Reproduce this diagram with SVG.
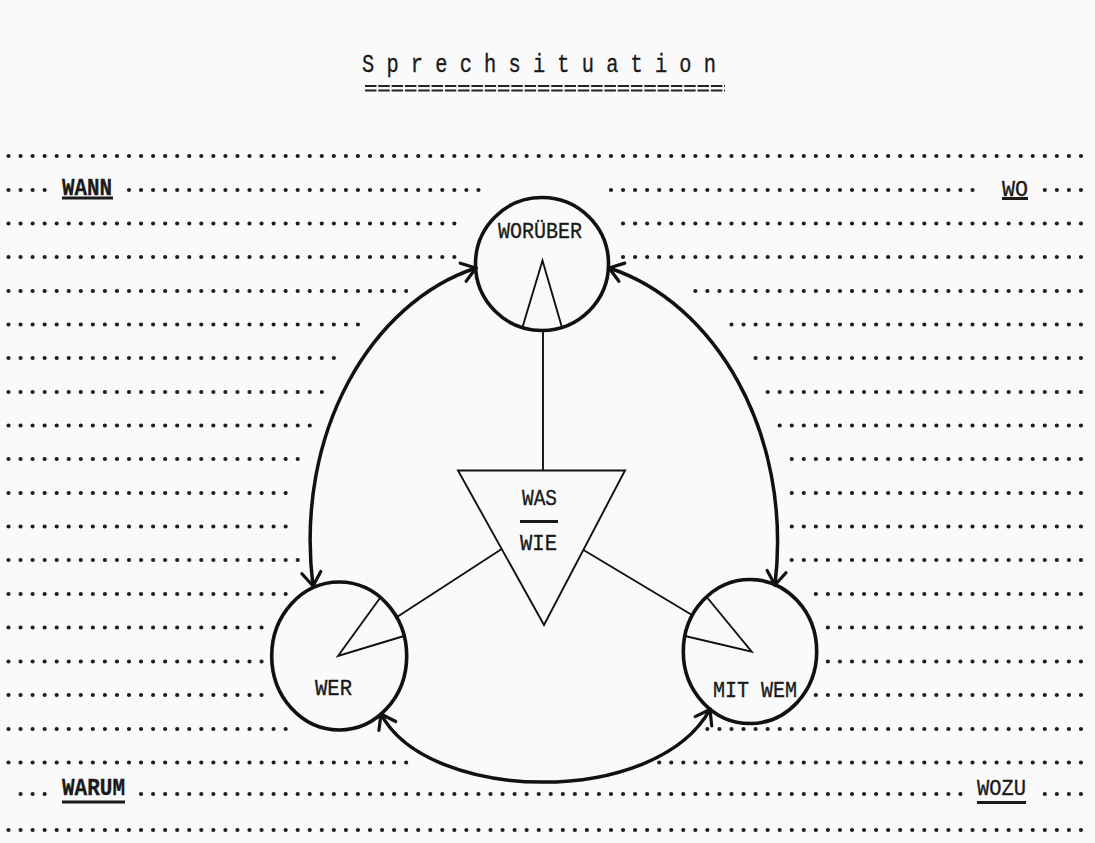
<svg xmlns="http://www.w3.org/2000/svg" width="1095" height="843" viewBox="0 0 1095 843">
<defs>
<style>
.dots{stroke:#1e1e1e;stroke-width:4.2;stroke-linecap:round;stroke-dasharray:0 12.05;fill:none}
.t{font-family:"Courier New","Liberation Mono",monospace;fill:#1a1a1a;stroke:#1a1a1a;stroke-width:0.35}
.lab{font-size:22px}
.big{font-size:23px;font-weight:bold}
.ul{stroke:#1a1a1a;stroke-width:3}
.ring{fill:none;stroke:#111;stroke-width:3.6}
.thin{fill:none;stroke:#111;stroke-width:1.9;stroke-linejoin:miter}
.arc{fill:none;stroke:#111;stroke-width:3.5;stroke-linecap:round}
</style>
<marker id="ah" viewBox="-16 -12 20 24" markerWidth="20" markerHeight="24" refX="0" refY="0" markerUnits="userSpaceOnUse" orient="auto-start-reverse">
<path d="M -13.5,-9.5 L 0,0 L -13.5,9.5" fill="none" stroke="#111" stroke-width="3.2" stroke-linecap="round" stroke-linejoin="round"/>
</marker>
</defs>
<rect width="1095" height="843" fill="#fafafa"/>

<g id="title">
<text class="t" x="362" y="72" font-size="26" textLength="354" lengthAdjust="spacingAndGlyphs">S p r e c h s i t u a t i o n</text>
<line x1="365" y1="86" x2="725" y2="86" stroke="#222" stroke-width="2" stroke-dasharray="11.5 1.8"/>
<line x1="365" y1="90.5" x2="725" y2="90.5" stroke="#222" stroke-width="2" stroke-dasharray="11.5 1.8"/>
</g>

<g id="dot-rows">
<line class="dots" x1="8.5" y1="156" x2="1081.05" y2="156"/>
<line class="dots" x1="8.5" y1="190" x2="44.7" y2="190"/>
<line class="dots" x1="129" y1="190" x2="478.5" y2="190"/>
<line class="dots" x1="611" y1="190" x2="972.55" y2="190"/>
<line class="dots" x1="1044.8" y1="190" x2="1081.05" y2="190"/>
<line class="dots" x1="8.5" y1="223.5" x2="454.4" y2="223.5"/>
<line class="dots" x1="623.05" y1="223.5" x2="1081.05" y2="223.5"/>
<line class="dots" x1="8.5" y1="257" x2="454.4" y2="257"/>
<line class="dots" x1="623.05" y1="257" x2="1081.05" y2="257"/>
<line class="dots" x1="8.5" y1="291" x2="406.2" y2="291"/>
<line class="dots" x1="695.35" y1="291" x2="1081.05" y2="291"/>
<line class="dots" x1="8.5" y1="324.5" x2="358" y2="324.5"/>
<line class="dots" x1="731.5" y1="324.5" x2="1081.05" y2="324.5"/>
<line class="dots" x1="8.5" y1="358" x2="333.9" y2="358"/>
<line class="dots" x1="755.6" y1="358" x2="1081.05" y2="358"/>
<line class="dots" x1="8.5" y1="392" x2="321.85" y2="392"/>
<line class="dots" x1="767.65" y1="392" x2="1081.05" y2="392"/>
<line class="dots" x1="8.5" y1="425.5" x2="309.8" y2="425.5"/>
<line class="dots" x1="779.7" y1="425.5" x2="1081.05" y2="425.5"/>
<line class="dots" x1="8.5" y1="459" x2="297.75" y2="459"/>
<line class="dots" x1="791.75" y1="459" x2="1081.05" y2="459"/>
<line class="dots" x1="8.5" y1="493" x2="285.7" y2="493"/>
<line class="dots" x1="791.75" y1="493" x2="1081.05" y2="493"/>
<line class="dots" x1="8.5" y1="526.5" x2="285.7" y2="526.5"/>
<line class="dots" x1="791.75" y1="526.5" x2="1081.05" y2="526.5"/>
<line class="dots" x1="8.5" y1="560" x2="297.75" y2="560"/>
<line class="dots" x1="791.75" y1="560" x2="1081.05" y2="560"/>
<line class="dots" x1="8.5" y1="594" x2="285.7" y2="594"/>
<line class="dots" x1="815.85" y1="594" x2="1081.05" y2="594"/>
<line class="dots" x1="8.5" y1="627.5" x2="261.6" y2="627.5"/>
<line class="dots" x1="827.9" y1="627.5" x2="1081.05" y2="627.5"/>
<line class="dots" x1="8.5" y1="661.5" x2="261.6" y2="661.5"/>
<line class="dots" x1="827.9" y1="661.5" x2="1081.05" y2="661.5"/>
<line class="dots" x1="8.5" y1="695" x2="261.6" y2="695"/>
<line class="dots" x1="815.85" y1="695" x2="1081.05" y2="695"/>
<line class="dots" x1="8.5" y1="729" x2="285.7" y2="729"/>
<line class="dots" x1="707.4" y1="729" x2="1081.05" y2="729"/>
<line class="dots" x1="8.5" y1="762.5" x2="406.2" y2="762.5"/>
<line class="dots" x1="659.2" y1="762.5" x2="1081.05" y2="762.5"/>
<line class="dots" x1="20.55" y1="794" x2="44.7" y2="794"/>
<line class="dots" x1="141.05" y1="794" x2="960.5" y2="794"/>
<line class="dots" x1="1044.8" y1="794" x2="1081.05" y2="794"/>
<line class="dots" x1="8.5" y1="830" x2="1081.05" y2="830"/>
</g>

<g id="corner-labels">
<text class="t big" x="62" y="195" textLength="50" lengthAdjust="spacingAndGlyphs">WANN</text>
<line class="ul" x1="62" y1="198" x2="113" y2="198"/>
<text class="t lab" x="1002" y="196" textLength="26" lengthAdjust="spacingAndGlyphs">WO</text>
<line class="ul" x1="1002" y1="198.5" x2="1028" y2="198.5"/>
<text class="t big" x="62" y="795" textLength="63" lengthAdjust="spacingAndGlyphs">WARUM</text>
<line class="ul" x1="62" y1="802" x2="125" y2="802"/>
<text class="t lab" x="977" y="795" textLength="49" lengthAdjust="spacingAndGlyphs">WOZU</text>
<line class="ul" x1="977" y1="802.5" x2="1026" y2="802.5"/>
</g>

<g id="worueber">
<circle class="ring" cx="542" cy="264" r="66.5"/>
<polyline class="thin" points="522.7,326.5 542.5,260.5 561.7,326.5"/>
<text class="t lab" x="498" y="238" textLength="84" lengthAdjust="spacingAndGlyphs">WORÜBER</text>
</g>

<g id="was-wie">
<polygon class="thin" points="458,470.5 625,470.5 544,625"/>
<text class="t lab" x="522" y="505" textLength="35" lengthAdjust="spacingAndGlyphs">WAS</text>
<line x1="520" y1="521.5" x2="558" y2="521.5" stroke="#1a1a1a" stroke-width="3"/>
<text class="t lab" x="520" y="550" textLength="37" lengthAdjust="spacingAndGlyphs">WIE</text>
</g>

<g id="wer">
<ellipse class="ring" cx="339.2" cy="656" rx="67.5" ry="74"/>
<polyline class="thin" points="380,598 338,656 404,636"/>
<text class="t lab" x="315" y="695" textLength="37" lengthAdjust="spacingAndGlyphs">WER</text>
</g>

<g id="mit-wem">
<ellipse class="ring" cx="750" cy="651.5" rx="66.7" ry="72"/>
<polyline class="thin" points="706.7,597 751.7,651.7 685,636"/>
<text class="t lab" x="713" y="697" textLength="84" lengthAdjust="spacingAndGlyphs">MIT WEM</text>
</g>

<g id="connectors">
<line class="thin" x1="543" y1="330.5" x2="543" y2="470.5"/>
<line class="thin" x1="501.7" y1="549" x2="397" y2="617"/>
<line class="thin" x1="583.5" y1="550" x2="692" y2="615"/>
<path class="arc" d="M 313,586 C 294,432 372,302 476,268" marker-start="url(#ah)" marker-end="url(#ah)"/>
<path class="arc" d="M 775,585 C 793,432 714,302 609,268" marker-start="url(#ah)" marker-end="url(#ah)"/>
<path class="arc" d="M 381,714 C 428,803 655,808 710,709.5" marker-start="url(#ah)" marker-end="url(#ah)"/>
</g>
</svg>
